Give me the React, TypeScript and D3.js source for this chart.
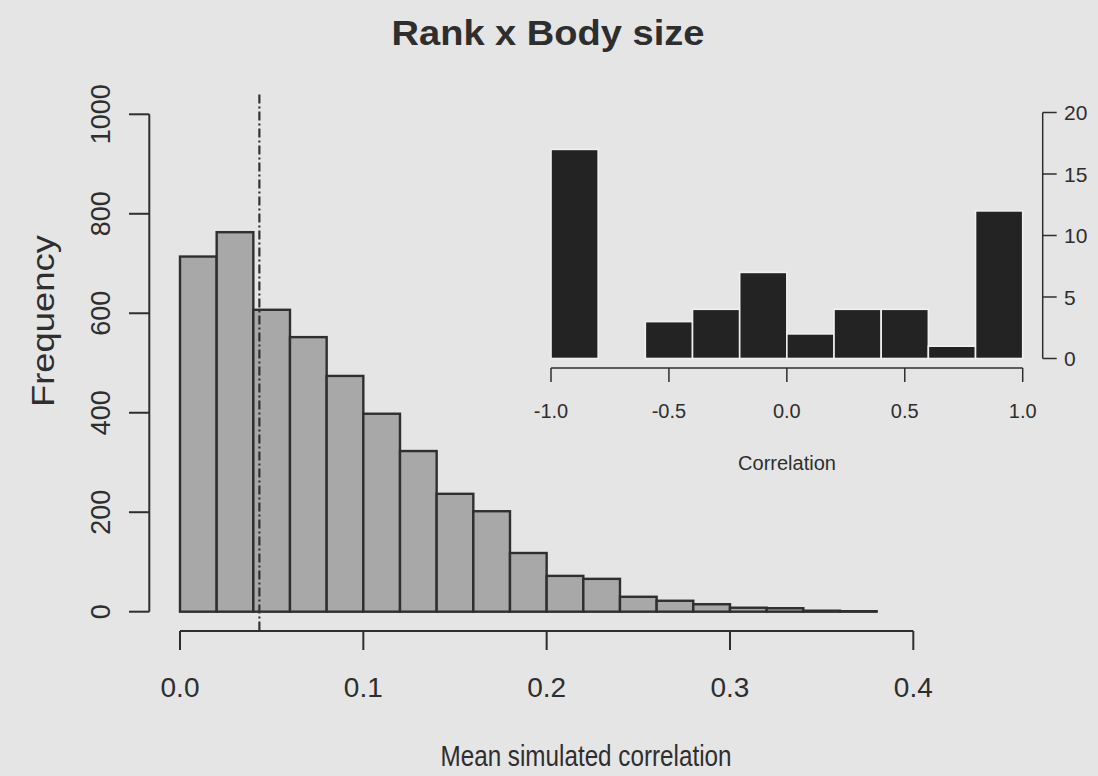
import React from "react";
import * as d3 from "d3";

// Main histogram: mean simulated correlation, bins of width 0.02 from 0 to 0.38
const mainBinStarts = [0, 0.02, 0.04, 0.06, 0.08, 0.1, 0.12, 0.14, 0.16, 0.18, 0.2, 0.22, 0.24, 0.26, 0.28, 0.3, 0.32, 0.34, 0.36];
const mainCounts = [714, 763, 607, 552, 474, 398, 323, 237, 202, 118, 72, 66, 30, 22, 15, 8, 7, 2, 1];
const mainBinWidth = 0.02;
const mainXTicks = [0, 0.1, 0.2, 0.3, 0.4];
const mainYTicks = [0, 200, 400, 600, 800, 1000];
const observedValue = 0.0433;

// Inset histogram: correlation, bins of width 0.2 from -1 to 1
const insetBinStarts = [-1, -0.8, -0.6, -0.4, -0.2, 0, 0.2, 0.4, 0.6, 0.8];
const insetCounts = [17, 0, 3, 4, 7, 2, 4, 4, 1, 12];
const insetBinWidth = 0.2;
const insetXTicks = [-1, -0.5, 0, 0.5, 1];
const insetYTicks = [0, 5, 10, 15, 20];

const W = 1098;
const H = 776;
const FONT = "'Liberation Sans', Arial, Helvetica, sans-serif";
const INK = "#2e2e2e";

const fmt1 = (v: number) => d3.format(".1f")(v).replace("\u2212", "-");

export default function App() {
  const x = d3.scaleLinear().domain([0, 0.4]).range([180, 913.3]);
  const y = d3.scaleLinear().domain([0, 1000]).range([611.7, 114.3]);
  const yPlotTop = y(1040);
  const yPlotBottom = y(-40);

  const xi = d3.scaleLinear().domain([-1, 1]).range([551, 1022.7]);
  const yi = d3.scaleLinear().domain([0, 20]).range([358.5, 112.5]);

  return (
    <svg
      width={W}
      height={H}
      viewBox={`0 0 ${W} ${H}`}
      style={{ position: "fixed", left: 0, top: 0, display: "block" }}
    >
      <rect x={0} y={0} width={W} height={H} fill="#e5e5e5" />

      {/* Title */}
      <text x={548} y={45} textAnchor="middle" fontFamily={FONT} fontWeight="bold" fontSize={35} fill={INK} textLength={313} lengthAdjust="spacingAndGlyphs">
        Rank x Body size
      </text>

      {/* Main bars */}
      {mainBinStarts.map((b, i) => (
        <rect
          key={i}
          x={x(b)}
          y={y(mainCounts[i])}
          width={x(b + mainBinWidth) - x(b)}
          height={y(0) - y(mainCounts[i])}
          fill="#a8a8a8"
          stroke="#2f2f2f"
          strokeWidth={2.4}
        />
      ))}

      {/* Observed value line */}
      <line x1={x(observedValue)} x2={x(observedValue)} y1={yPlotTop} y2={yPlotBottom} stroke="#333" strokeWidth={2.2} strokeDasharray="9,3,2,3" />

      {/* Main y axis */}
      <line x1={149.3} x2={149.3} y1={y(0)} y2={y(1000)} stroke={INK} strokeWidth={2} />
      {mainYTicks.map((t) => (
        <g key={t}>
          <line x1={129} x2={149.3} y1={y(t)} y2={y(t)} stroke={INK} strokeWidth={2} />
          <text transform={`translate(110,${y(t)}) rotate(-90)`} textAnchor="middle" fontFamily={FONT} fontSize={27} fill={INK}>
            {t}
          </text>
        </g>
      ))}
      <text transform={`translate(54,321) rotate(-90)`} textAnchor="middle" fontFamily={FONT} fontSize={31} fill={INK} textLength={172} lengthAdjust="spacingAndGlyphs">
        Frequency
      </text>

      {/* Main x axis */}
      <line x1={x(0)} x2={x(0.4)} y1={631} y2={631} stroke={INK} strokeWidth={2} />
      {mainXTicks.map((t) => (
        <g key={t}>
          <line x1={x(t)} x2={x(t)} y1={631} y2={650} stroke={INK} strokeWidth={2} />
          <text x={x(t)} y={697} textAnchor="middle" fontFamily={FONT} fontSize={28} fill={INK}>
            {fmt1(t)}
          </text>
        </g>
      ))}
      <text x={586} y={766} textAnchor="middle" fontFamily={FONT} fontSize={29} fill={INK} textLength={291} lengthAdjust="spacingAndGlyphs">
        Mean simulated correlation
      </text>

      {/* Inset bars */}
      {insetBinStarts.map((b, i) => (
        <rect
          key={i}
          x={xi(b)}
          y={yi(insetCounts[i])}
          width={xi(b + insetBinWidth) - xi(b)}
          height={yi(0) - yi(insetCounts[i])}
          fill="#232323"
          stroke="#f0f0f0"
          strokeWidth={1.6}
        />
      ))}

      {/* Inset x axis */}
      <line x1={xi(-1)} x2={xi(1)} y1={368} y2={368} stroke={INK} strokeWidth={1.5} />
      {insetXTicks.map((t) => (
        <g key={t}>
          <line x1={xi(t)} x2={xi(t)} y1={368} y2={382} stroke={INK} strokeWidth={1.5} />
          <text x={xi(t)} y={418} textAnchor="middle" fontFamily={FONT} fontSize={20} fill={INK}>
            {fmt1(t)}
          </text>
        </g>
      ))}
      <text x={787} y={470} textAnchor="middle" fontFamily={FONT} fontSize={20} fill={INK}>
        Correlation
      </text>

      {/* Inset y axis (right) */}
      <line x1={1042.7} x2={1042.7} y1={yi(0)} y2={yi(20)} stroke={INK} strokeWidth={1.5} />
      {insetYTicks.map((t) => (
        <g key={t}>
          <line x1={1042.7} x2={1056.7} y1={yi(t)} y2={yi(t)} stroke={INK} strokeWidth={1.5} />
          <text x={1064} y={yi(t) + 7.5} textAnchor="start" fontFamily={FONT} fontSize={21} fill={INK}>
            {t}
          </text>
        </g>
      ))}
    </svg>
  );
}
